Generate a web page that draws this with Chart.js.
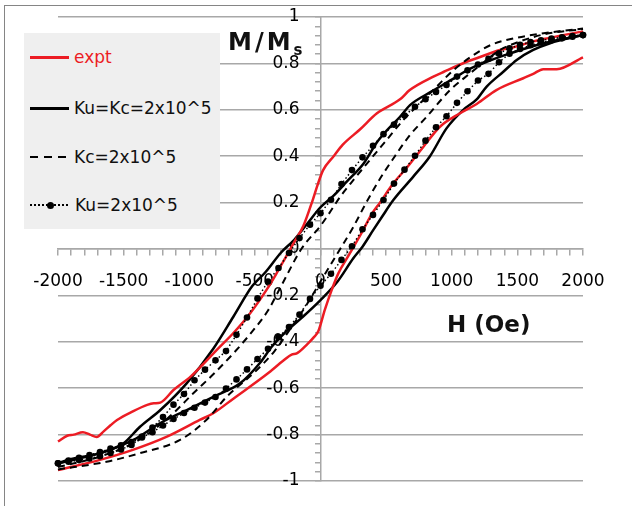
<!DOCTYPE html>
<html>
<head>
<meta charset="utf-8">
<script src="https://cdn.jsdelivr.net/npm/chart.js@4.4.1/dist/chart.umd.min.js"></script>
<style>
  html, body { margin:0; padding:0; background:#fff; }
  body { width:632px; height:506px; position:relative; overflow:hidden; font-family:"DejaVu Sans", sans-serif; color:#111; }
  #frame { position:absolute; left:4px; top:5px; width:700px; height:600px; border:1.5px solid #858585; }
  #c { position:absolute; left:0; top:0; }
  #legend { position:absolute; left:24px; top:33px; width:196px; height:196px; background:#efefef; }
  .sw { position:absolute; left:6px; width:39px; }
  .lt { position:absolute; left:50px; font-size:17px; line-height:20px; height:20px; white-space:nowrap; }
  .dot { position:absolute; width:7px; height:7px; border-radius:50%; background:#000; }
  .title { position:absolute; font-weight:bold; white-space:nowrap; line-height:28px; }
</style>
</head>
<body>
<div id="frame"></div>
<canvas id="c" width="632" height="506"></canvas>

<div id="legend">
  <div class="sw" style="top:22.5px;height:3px;background:rgb(236,28,36)"></div>
  <div class="lt" style="top:14px;color:rgb(236,28,36)">expt</div>

  <div class="sw" style="top:73.5px;height:3px;background:#000"></div>
  <div class="lt" style="top:65px">Ku=Kc=2x10^5</div>

  <div class="sw" style="top:123px;height:2px;background:repeating-linear-gradient(90deg,#000 0 8px,transparent 8px 14px)"></div>
  <div class="lt" style="top:114px">Kc=2x10^5</div>

  <div class="sw" style="top:171px;height:2px;background:repeating-linear-gradient(90deg,#000 0 2px,transparent 2px 4px)"></div>
  <div class="dot" style="left:22.5px;top:168.5px"></div>
  <div class="lt" style="top:162px;left:51px">Ku=2x10^5</div>
</div>

<div class="title" style="left:228px;top:28px;font-size:24px;letter-spacing:3px">M/M<span style="font-size:15px;position:relative;top:5px;letter-spacing:0">s</span></div>
<div class="title" style="left:447px;top:310px;font-size:23px">H (Oe)</div>

<script>
// field values (Oe) and M/Ms, one pair of arrays per branch
const exptUpH = [-2000,-1930,-1880,-1810,-1756,-1705,-1650,-1600,-1550,-1430,-1320,-1270,-1220,-1120,-990,-900,-790,-660,-540,-410,-340,-270,-200,-130,-60,-20,20,100,170,300,430,606,680,860,940,1114,1190,1368,1440,1621,1700,2000];
const exptUpM = [-0.83,-0.805,-0.80,-0.79,-0.80,-0.81,-0.785,-0.76,-0.737,-0.70,-0.672,-0.665,-0.662,-0.608,-0.55,-0.50,-0.435,-0.36,-0.28,-0.175,-0.11,-0.04,0.03,0.10,0.21,0.28,0.34,0.40,0.45,0.515,0.585,0.645,0.685,0.743,0.764,0.807,0.822,0.858,0.865,0.895,0.905,0.938];
const exptDnH = [-2000,-1680,-1430,-1170,-920,-817,-664,-410,-280,-220,-181,-100,-50,-17,34,85,136,212,314,390,453,555,657,783,910,1063,1190,1340,1545,1621,1697,1800,2000];
const exptDnM = [-0.953,-0.909,-0.866,-0.809,-0.737,-0.708,-0.645,-0.54,-0.48,-0.455,-0.45,-0.41,-0.38,-0.355,-0.26,-0.177,-0.105,-0.03,0.07,0.15,0.20,0.283,0.35,0.44,0.527,0.585,0.625,0.685,0.736,0.755,0.775,0.775,0.826];

const kuKcUpH = [-2000,-1930,-1680,-1500,-1375,-1220,-1020,-817,-664,-520,-420,-300,-200,-100,0,100,200,330,430,504,606,682,834,1000,1100,1190,1266,1444,1697,2000];
const kuKcUpM = [-0.924,-0.909,-0.88,-0.837,-0.766,-0.694,-0.579,-0.43,-0.292,-0.16,-0.10,-0.015,0.04,0.11,0.18,0.23,0.29,0.37,0.46,0.51,0.57,0.62,0.675,0.73,0.765,0.79,0.807,0.843,0.887,0.922];
const kuKcDnH = [-2000,-1680,-1426,-1223,-1019,-817,-613,-460,-370,-270,-150,0,130,250,320,400,470,555,707,834,960,1088,1190,1266,1393,1495,1621,1749,2000];
const kuKcDnM = [-0.924,-0.88,-0.823,-0.751,-0.694,-0.637,-0.579,-0.49,-0.42,-0.36,-0.30,-0.22,-0.14,-0.04,0.01,0.08,0.14,0.211,0.312,0.40,0.52,0.60,0.645,0.70,0.764,0.815,0.858,0.887,0.922];

const kcUpH = [-2000,-1680,-1426,-1274,-1122,-969,-817,-664,-512,-400,-300,-146,0,50,150,250,377,504,631,758,885,1012,1150,1300,1450,1700,2000];
const kcUpM = [-0.94,-0.895,-0.837,-0.78,-0.708,-0.622,-0.54,-0.45,-0.35,-0.265,-0.16,0.0,0.10,0.14,0.225,0.297,0.384,0.47,0.556,0.628,0.70,0.77,0.83,0.88,0.905,0.93,0.95];
const kcDnH = [-2000,-1630,-1375,-1070,-870,-715,-500,-350,-219,-100,0,150,250,339,450,555,680,809,987,1139,1266,1368,1450,1700,2000];
const kcDnM = [-0.95,-0.917,-0.88,-0.823,-0.737,-0.637,-0.53,-0.44,-0.335,-0.235,-0.14,0.0,0.095,0.19,0.30,0.39,0.49,0.57,0.685,0.757,0.815,0.858,0.88,0.925,0.948];

// Ku=2x10^5 is plotted with a marker at every point
const kuH = [-2000,-1920,-1840,-1760,-1680,-1600,-1520,-1440,-1360,-1280,-1200,-1120,-1040,-960,-880,-800,-720,-640,-560,-480,-400,-320,-240,-160,-80,0,80,160,240,320,400,480,560,640,720,800,880,960,1040,1120,1200,1280,1360,1440,1520,1600,1680,1760,1840,1920,2000];
const kuUpM = [-0.924,-0.917,-0.91,-0.903,-0.893,-0.879,-0.864,-0.845,-0.808,-0.77,-0.724,-0.671,-0.625,-0.566,-0.52,-0.48,-0.44,-0.37,-0.295,-0.213,-0.14,-0.082,-0.017,0.047,0.105,0.154,0.212,0.28,0.34,0.395,0.445,0.495,0.536,0.575,0.613,0.646,0.677,0.707,0.743,0.77,0.795,0.82,0.843,0.865,0.88,0.892,0.90,0.907,0.913,0.918,0.922];
const kuDnM = [-0.924,-0.912,-0.90,-0.888,-0.875,-0.86,-0.846,-0.832,-0.812,-0.79,-0.761,-0.733,-0.707,-0.684,-0.662,-0.638,-0.602,-0.562,-0.519,-0.474,-0.43,-0.38,-0.336,-0.283,-0.215,-0.158,-0.107,-0.047,0.012,0.085,0.147,0.211,0.282,0.342,0.402,0.467,0.525,0.572,0.63,0.68,0.726,0.755,0.805,0.842,0.862,0.878,0.89,0.90,0.908,0.915,0.922];

const xTicksLabelled = [-2000,-1500,-1000,-500,0,500,1000,1500,2000];

const RED = 'rgb(236,28,36)';
const GRID = '#a8a8a8';
const FONT = {family:'"DejaVu Sans", sans-serif', size:17};

function pts(hs, ms){ return hs.map((h,i)=>({x:h, y:ms[i]})); }

function lineSet(label, hs, ms, color, width, dash, order){
  return {
    label, data: pts(hs, ms), showLine:true, borderColor:color, borderWidth:width,
    borderDash:dash, pointRadius:0, pointHoverRadius:0, cubicInterpolationMode:'monotone',
    fill:false, order, clip:8, xAxisID:'x', yAxisID:'y'
  };
}
function dotSet(label, ms){
  return {
    label, data: pts(kuH, ms), showLine:true, borderColor:'#000', borderWidth:1.5,
    borderDash:[1.5,2.5], pointRadius:3.3, pointBackgroundColor:'#000', pointBorderWidth:0,
    tension:0, fill:false, order:1, clip:8, xAxisID:'x', yAxisID:'y'
  };
}

function isMajor(v){ return Math.abs(v*5 - Math.round(v*5)) < 1e-6; }

new Chart(document.getElementById('c'), {
  type: 'scatter',
  data: {
    datasets: [
      lineSet('expt', exptUpH, exptUpM, RED, 2.5, [], 3),
      lineSet('expt', exptDnH, exptDnM, RED, 2.5, [], 3),
      lineSet('Ku=Kc=2x10^5', kuKcUpH, kuKcUpM, '#000', 2.5, [], 4),
      lineSet('Ku=Kc=2x10^5', kuKcDnH, kuKcDnM, '#000', 2.5, [], 4),
      lineSet('Kc=2x10^5', kcUpH, kcUpM, '#000', 2, [7,5], 2),
      lineSet('Kc=2x10^5', kcDnH, kcDnM, '#000', 2, [7,5], 2),
      dotSet('Ku=2x10^5', kuUpM),
      dotSet('Ku=2x10^5', kuDnM)
    ]
  },
  options: {
    responsive: false,
    animation: false,
    devicePixelRatio: 1,
    layout: { padding: {left:58, right:49, top:17, bottom:25} },
    plugins: { legend:{display:false}, tooltip:{enabled:false} },
    scales: {
      x: {
        type:'linear', min:-2000, max:2000, position:{y:0}, z:1,
        ticks:{
          stepSize:100, autoSkip:false, maxRotation:0, minRotation:0, padding:16,
          color:'#000', font:FONT,
          callback: v => xTicksLabelled.includes(v) ? String(v) : ''
        },
        grid:{ drawOnChartArea:false, tickLength:6, tickColor:GRID, lineWidth:1.5 },
        border:{ color:GRID, width:1.5 }
      },
      y: {
        type:'linear', min:-1, max:1, position:{x:0},
        ticks:{ stepSize:0.04, display:false },
        grid:{
          color: ctx => (ctx.tick && isMajor(ctx.tick.value)) ? GRID : 'rgba(0,0,0,0)',
          tickColor:GRID, tickLength:5, lineWidth:1.5
        },
        border:{ color:GRID, width:1.5 }
      },
      yLab: {
        type:'linear', axis:'y', min:-1, max:1, position:{x:-160}, z:1,
        ticks:{ stepSize:0.2, color:'#000', font:FONT, callback: v => String(Math.round(v*10)/10) },
        grid:{ display:false, drawTicks:false },
        border:{ display:false }
      }
    }
  }
});
</script>
</body>
</html>
